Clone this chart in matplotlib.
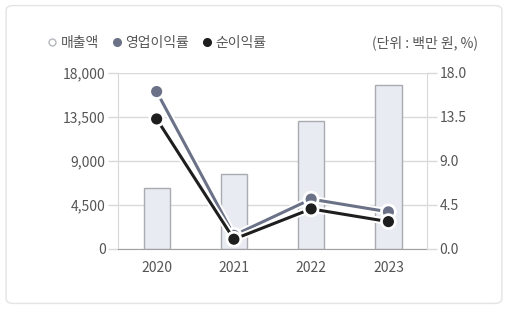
import matplotlib.pyplot as plt
import matplotlib.patheffects as pe
from matplotlib.lines import Line2D
from matplotlib.patches import FancyBboxPatch

plt.rcParams['font.family'] = ['Noto Sans CJK KR', 'DejaVu Sans']

years = ['2020', '2021', '2022', '2023']
sales = [6200, 7700, 13100, 16800]          # 매출액 (백만 원)
op_margin = [16.1, 1.4, 5.1, 3.8]           # 영업이익률 (%)
net_margin = [13.3, 1.0, 4.1, 2.8]          # 순이익률 (%)
left_ticks = [0, 4500, 9000, 13500, 18000]
right_ticks = [0.0, 4.5, 9.0, 13.5, 18.0]

text_col = '#555555'
grid_col = '#d9d9d9'
op_col = '#6b7287'
net_col = '#1e1e1e'

fig = plt.figure(figsize=(5.08, 3.09), dpi=100)
fig.add_artist(FancyBboxPatch((0.012, 0.018), 0.976, 0.964,
                              boxstyle='round,pad=0,rounding_size=0.015',
                              transform=fig.transFigure, fc='white',
                              ec='#e4e4e4', lw=1.0, zorder=-10))

ax = fig.add_axes([0.2323, 0.1942, 0.6083, 0.5696])
ax.set_facecolor('none')
x = range(len(years))
ax.bar(x, sales, width=0.34, color='#e8ebf1', edgecolor='#a9abb0', lw=1.0, zorder=2)
ax.set_xlim(-0.5, 3.5)
ax.set_ylim(0, 18000)
ax.set_yticks(left_ticks)
ax.set_yticklabels([f'{v:,}' for v in left_ticks])
ax.set_xticks(list(x))
ax.set_xticklabels(years)
ax.grid(axis='y', color=grid_col, lw=1.0, zorder=0)
for s in ['left', 'right', 'top']:
    ax.spines[s].set_visible(False)
ax.spines['left'].set_visible(True)
ax.spines['left'].set_color(grid_col)
ax.spines['bottom'].set_color('#a0a0a0')
ax.tick_params(axis='y', colors=grid_col, labelcolor=text_col, length=7, width=1.0,
               pad=2, labelsize=10)
ax.tick_params(axis='x', length=0, pad=9, labelcolor=text_col, labelsize=10)

ax2 = ax.twinx()
ax2.set_ylim(0, 18)
ax2.set_yticks(right_ticks)
ax2.set_yticklabels([f'{v:.1f}' for v in right_ticks])
for s in ['left', 'top', 'bottom']:
    ax2.spines[s].set_visible(False)
ax2.spines['right'].set_color(grid_col)
ax2.tick_params(axis='y', colors=grid_col, labelcolor=text_col, length=7, width=1.0,
                pad=2, labelsize=10)

outline = [pe.Stroke(linewidth=5, foreground='white'), pe.Normal()]
ax2.plot(x, op_margin, color=op_col, lw=2.2, marker='o', ms=7,
         path_effects=outline, zorder=3)
ax2.plot(x, net_margin, color=net_col, lw=2.2, marker='o', ms=7,
         path_effects=outline, zorder=4)

handles = [
    Line2D([], [], ls='none', marker='o', ms=5, mfc='white', mec='#b5b8be'),
    Line2D([], [], ls='none', marker='o', ms=5.5, color=op_col),
    Line2D([], [], ls='none', marker='o', ms=5.5, color=net_col),
]
fig.legend(handles, ['매출액', '영업이익률', '순이익률'], loc='center left',
           bbox_to_anchor=(0.07, 0.862), ncol=3, frameon=False, fontsize=10,
           handlelength=0.6, handletextpad=0.3, columnspacing=1.0,
           labelcolor=text_col)
fig.text(0.94, 0.862, '(단위 : 백만 원, %)', ha='right', va='center',
         fontsize=10, color=text_col)

fig.savefig('out.png', dpi=100)
